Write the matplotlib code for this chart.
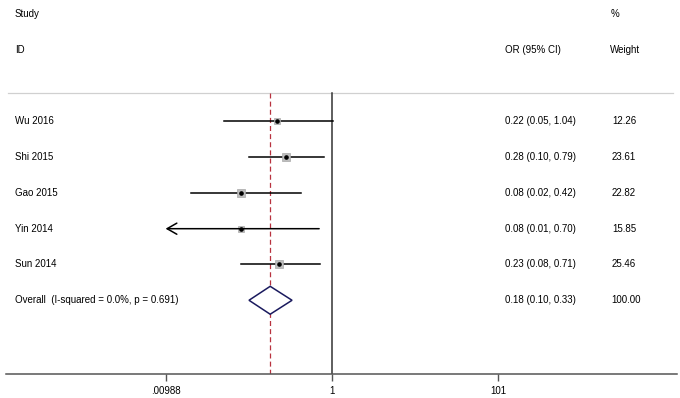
import numpy as np
import matplotlib
matplotlib.use("Agg")
import matplotlib.pyplot as plt
import matplotlib.transforms as mtrans
from matplotlib.patches import Polygon

plt.rcParams['font.family'] = ['Liberation Sans', 'DejaVu Sans']

studies = ["Wu 2016", "Shi 2015", "Gao 2015", "Yin 2014", "Sun 2014"]
or_est = [0.22, 0.28, 0.08, 0.08, 0.23]
ci_lo = [0.05, 0.10, 0.02, 0.0059, 0.08]
ci_hi = [1.04, 0.79, 0.42, 0.70, 0.71]
or_text = ["0.22 (0.05, 1.04)", "0.28 (0.10, 0.79)", "0.08 (0.02, 0.42)",
           "0.08 (0.01, 0.70)", "0.23 (0.08, 0.71)"]
weights = [12.26, 23.61, 22.82, 15.85, 25.46]
weight_text = ["12.26", "23.61", "22.82", "15.85", "25.46"]

overall_label = "Overall  (I-squared = 0.0%, p = 0.691)"
overall_est, overall_lo, overall_hi = 0.18, 0.10, 0.33
overall_text = "0.18 (0.10, 0.33)"
overall_weight = "100.00"

tick_vals = [0.00988, 1, 101]
tick_labels = [".00988", "1", "101"]

W, H = 680, 398
fig = plt.figure(figsize=(W/100, H/100), dpi=100)
ax = fig.add_axes([6/W, 24/H, (677-6)/W, 1-24/H])
xmin_log = (6-332)/83.0
xmax_log = (677-332)/83.0
ax.set_xscale('log')
ax.set_xlim(10**xmin_log, 10**xmax_log)
ax.set_ylim(10.06, -0.39)

for s in ['top', 'right', 'left']:
    ax.spines[s].set_visible(False)
ax.spines['bottom'].set_color('#555555')
ax.spines['bottom'].set_linewidth(1.1)
ax.set_yticks([])
ax.xaxis.set_major_locator(matplotlib.ticker.FixedLocator(tick_vals))
ax.xaxis.set_minor_locator(matplotlib.ticker.NullLocator())
ax.set_xticklabels(tick_labels)
ax.tick_params(axis='x', direction='out', length=5, width=1, color='#555555',
               labelsize=7, pad=4)

fs = 7
sep_y = 2.22
row0 = 3
tfig = mtrans.blended_transform_factory(fig.transFigure, ax.transData)


def put(xpx, y, s):
    ax.text(xpx/W, y, s, transform=tfig, fontsize=fs, va='center', ha='left', clip_on=False)


put(15, 0, "Study")
put(15, 1, "ID")
put(611, 0, "%")
put(505, 1, "OR (95% CI)")
put(610, 1, "Weight")

# separator
ax.plot([8/W, 673/W], [sep_y, sep_y], transform=tfig, color='#d0d0d0', lw=0.9, clip_on=False)

# vertical reference lines
ax.plot([1, 1], [sep_y, 10.06], color='#333333', lw=1.1)
ax.plot([overall_est, overall_est], [sep_y, 10.06], color='#b8323f', lw=0.9,
        dashes=(4, 2.5))

xlo_axis = tick_vals[0]
for i, name in enumerate(studies):
    y = row0 + i
    put(15, y, name)
    put(505, y, or_text[i])
    put(612, y, weight_text[i])
    side = 1.59*np.sqrt(weights[i])*0.72
    ax.plot(or_est[i], y, marker='s', ms=side, mfc='#bdbdbd', mec='#a8a8a8', mew=0.5,
            ls='none', zorder=3)
    if ci_lo[i] < xlo_axis:
        ax.annotate('', xy=(xlo_axis, y), xytext=(ci_hi[i], y),
                    arrowprops=dict(arrowstyle='->,head_length=0.7,head_width=0.4',
                                    lw=1.1, color='black', shrinkA=0, shrinkB=0))
    else:
        ax.plot([ci_lo[i], ci_hi[i]], [y, y], color='black', lw=1.1, zorder=2)
    ax.plot(or_est[i], y, marker='o', ms=2.3, color='black', ls='none', zorder=4)

yo = row0 + len(studies)
put(15, yo, overall_label)
put(505, yo, overall_text)
put(611, yo, overall_weight)
dh = 0.39
diamond = Polygon([[overall_lo, yo], [overall_est, yo-dh], [overall_hi, yo], [overall_est, yo+dh]],
                  closed=True, fill=True, facecolor='white', edgecolor='#1a1a5e', lw=1.1, zorder=3)
ax.add_patch(diamond)

fig.savefig("out.png", dpi=100)
